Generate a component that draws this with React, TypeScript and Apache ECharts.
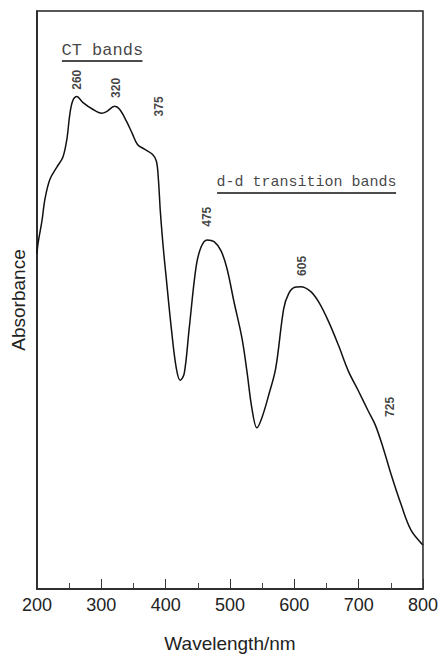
import React, { useEffect, useRef } from "react";
import * as echarts from "echarts";

const wavelengths = [
  200, 201.5, 207.7, 212.4, 220.1, 230.9, 240.2, 246.4, 251.0, 255.7, 261.9, 271.1, 286.6, 300.5, 308.2,
  320.6, 328.4, 339.2, 348.5, 356.2, 367.0, 379.4, 385.6, 388.7, 391.8, 396.4, 401.0, 408.8, 416.5,
  422.7, 428.9, 436.6, 447.4, 455.2, 464.4, 475.3, 486.1, 495.4, 506.2, 518.6, 526.3, 534.0, 541.8,
  549.5, 560.3, 571.1, 583.5, 591.2, 600.5, 609.8, 625.2, 637.6, 653.1, 668.5, 684.0, 699.5, 714.9,
  725.8, 738.1, 750.5, 766.0, 781.4, 800,
];
const absorbance = [
  58.0, 59.7, 63.7, 67.5, 70.9, 73.0, 74.7, 77.8, 82.1, 84.5, 85.2, 84.2, 83.0, 82.3, 82.6,
  83.5, 83.0, 80.9, 78.7, 76.9, 76.1, 75.2, 74.0, 70.9, 65.2, 58.9, 53.7, 45.1, 38.2,
  36.1, 37.3, 45.1, 55.8, 59.2, 60.4, 60.1, 58.5, 55.4, 49.7, 43.4, 37.7, 31.3, 27.9,
  29.6, 33.6, 38.2, 48.5, 51.1, 52.2, 52.3, 51.5, 49.7, 46.3, 42.2, 37.7, 34.3, 30.8,
  28.4, 24.4, 19.8, 14.6, 10.2, 7.6,
];

const peakLabels = ["260", "320", "375", "475", "605", "725"];
const peakLabelX = [261.9, 322.2, 390.2, 464.4, 611.3, 749.0];
const peakLabelY = [88.1, 86.7, 83.5, 64.4, 55.9, 31.5];

const bandTitles = ["CT bands", "d-d transition bands"];
const bandTitleX = [301.5, 619];
const bandTitleY = [93.2, 70.3];
const bandTitleSize = [17, 15];
const bandUnderlineStart = [238.7, 479.9];
const bandUnderlineEnd = [364.0, 758.2];
const bandUnderlineY = [91.4, 68.5];

const xTicks = [200, 300, 400, 500, 600, 700, 800];

export default function App() {
  const ref = useRef<HTMLDivElement>(null);
  useEffect(() => {
    if (!ref.current) return;
    const chart = echarts.init(ref.current, null, { renderer: "svg" });
    const curve = wavelengths.map((w, i) => [w, absorbance[i]]);
    const peaks = peakLabels.map((n, i) => ({ name: n, value: [peakLabelX[i], peakLabelY[i]] }));
    const titles = bandTitles.map((n, i) => ({
      name: n,
      value: [bandTitleX[i], bandTitleY[i]],
      label: { fontSize: bandTitleSize[i] },
    }));
    const underlines = bandTitles.map((_, i) => [
      { coord: [bandUnderlineStart[i], bandUnderlineY[i]] },
      { coord: [bandUnderlineEnd[i], bandUnderlineY[i]] },
    ]);
    chart.setOption({
      animation: false,
      backgroundColor: "#ffffff",
      grid: {
        left: 37,
        right: 16,
        top: 11,
        bottom: 66,
        show: true,
        borderColor: "#222",
        borderWidth: 1.5,
      },
      xAxis: {
        type: "value",
        min: 200,
        max: 800,
        interval: 100,
        name: "Wavelength/nm",
        nameLocation: "middle",
        nameGap: 45,
        nameTextStyle: { fontFamily: "Liberation Sans", fontSize: 19, color: "#222" },
        axisLine: { show: true, lineStyle: { color: "#222", width: 1.5 } },
        axisTick: { show: true, inside: true, length: 10, lineStyle: { color: "#333" } },
        minorTick: { show: true, splitNumber: 2, length: 6, lineStyle: { color: "#444" } },
        axisLabel: {
          fontFamily: "Liberation Sans",
          fontSize: 18,
          color: "#222",
          margin: 7,
          formatter: (v: number) => (xTicks.includes(v) ? String(v) : ""),
        },
        splitLine: { show: false },
      },
      yAxis: {
        type: "value",
        min: 0,
        max: 100,
        name: "Absorbance",
        nameLocation: "middle",
        nameGap: 9,
        nameTextStyle: { fontFamily: "Liberation Sans", fontSize: 19, color: "#222" },
        axisLine: { show: true, lineStyle: { color: "#222", width: 1.5 } },
        axisTick: { show: false },
        axisLabel: { show: false },
        splitLine: { show: false },
      },
      series: [
        {
          type: "line",
          data: curve,
          smooth: 0.35,
          showSymbol: false,
          lineStyle: { color: "#111", width: 1.5 },
          silent: true,
        },
        {
          type: "scatter",
          data: peaks,
          symbolSize: 0,
          silent: true,
          label: {
            show: true,
            position: "inside",
            formatter: "{b}",
            rotate: 90,
            fontFamily: "Liberation Sans",
            fontWeight: "bold",
            fontSize: 12,
            color: "#111",
          },
        },
        {
          type: "scatter",
          data: titles,
          symbolSize: 0,
          silent: true,
          label: {
            show: true,
            position: "inside",
            formatter: "{b}",
            fontFamily: "Liberation Mono",
            fontSize: 15,
            color: "#111",
          },
          markLine: {
            silent: true,
            symbol: "none",
            label: { show: false },
            lineStyle: { color: "#111", width: 1.5, type: "solid" },
            data: underlines,
          },
        },
      ],
    });
    return () => chart.dispose();
  }, []);
  return (
    <div
      ref={ref}
      style={{ position: "absolute", left: 0, top: 0, width: 441, height: 658 }}
    />
  );
}
